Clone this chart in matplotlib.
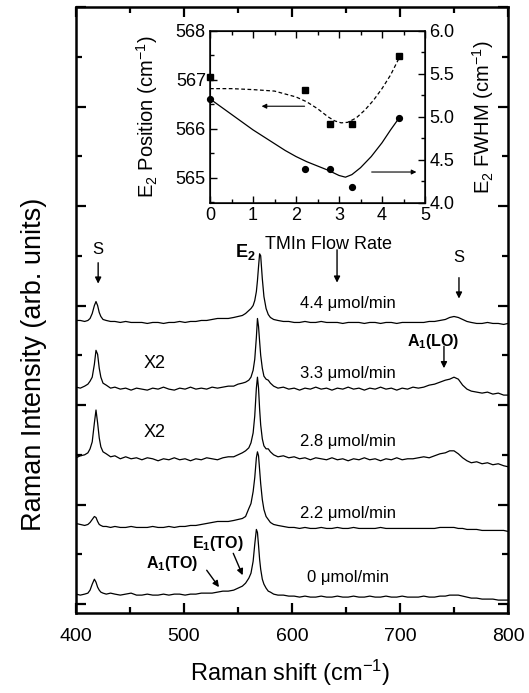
import matplotlib
matplotlib.use('Agg')
import matplotlib.pyplot as plt
from matplotlib.ticker import MultipleLocator, FormatStrFormatter

plt.rcParams['font.family'] = ['Liberation Sans', 'DejaVu Sans']
plt.rcParams['mathtext.fontset'] = 'custom'
plt.rcParams['mathtext.rm'] = 'Liberation Sans'
plt.rcParams['mathtext.it'] = 'Liberation Sans:italic'
plt.rcParams['mathtext.bf'] = 'Liberation Sans:bold'
plt.rcParams['mathtext.default'] = 'regular'

# Raman shift grid (cm-1), denser around the peaks
shift = [400, 404, 408, 411, 413, 415, 417, 418.5, 420, 421.5,
         423, 425, 428, 432, 436, 441, 446, 451, 456, 461,
         466, 471, 476, 481, 486, 491, 496, 501, 506, 511,
         516, 521, 526, 531, 536, 541, 546, 550, 554, 557,
         560, 562, 564, 565.5, 567, 568, 569, 570, 571, 572.5,
         574, 576, 578, 580, 583, 587, 592, 597, 602, 607,
         612, 617, 622, 627, 632, 637, 642, 647, 652, 657,
         662, 667, 672, 677, 682, 687, 692, 697, 702, 707,
         712, 717, 722, 727, 732, 737, 742, 746, 750, 754,
         758, 762, 766, 771, 776, 781, 786, 791, 796, 800]

# intensity above each baseline (arb. units)
spec_0 = [1, 0, 1, 2, 5, 11, 16, 13, 8, 5,
          3, 2, 1, 2, 1, 0, 1, 2, 0, 0,
          1, 0, 0, 1, 0, 1, 1, 0, 1, 1,
          2, 2, 2, 3, 4, 4, 5, 7, 9, 12,
          17, 22, 34, 51, 66, 63, 50, 36, 26, 16,
          11, 7, 4, 3, 1, 0, 0, -1, -1, -2,
          -1, -2, -2, -1, -2, -2, -1, -2, -2, -1,
          -2, -2, -1, -2, -2, -1, -2, -2, -1, -2,
          -2, -2, -1, -2, -2, -1, -1, 0, 0, 0,
          -1, -2, -3, -3, -4, -4, -4, -5, -5, -5]
spec_22 = [4, 3, 2, 3, 5, 8, 11, 10, 6, 3,
           2, 1, 1, 0, 1, 0, 0, 1, 0, 0,
           0, 1, 0, 0, 1, 0, 1, 1, 2, 2,
           3, 4, 5, 6, 6, 6, 7, 8, 9, 11,
           19, 24, 36, 50, 70, 76, 72, 58, 44, 28,
           18, 11, 8, 5, 3, 2, 1, 0, 0, -1,
           0, -1, -1, 0, -1, -1, 0, -1, -1, 0,
           -1, -1, -1, -1, 0, -1, -1, -1, -1, -1,
           -1, -1, -1, -1, -1, 0, 0, 0, 0, -1,
           -1, -2, -2, -2, -3, -3, -3, -3, -3, -4]
spec_28 = [0, 2, 3, 5, 9, 16, 35, 48, 35, 20,
           11, 6, 4, 1, 2, -1, 1, -1, 0, -2,
           0, -1, -3, -1, -2, 0, -2, -1, -3, -1,
           -2, 0, -1, -2, 0, 1, 1, 3, 5, 7,
           10, 15, 25, 42, 70, 81, 70, 49, 33, 19,
           12, 9, 9, 6, 3, 1, 2, 0, 1, -1,
           0, -2, 0, -1, -2, 0, -2, -1, -3, -1,
           -2, 0, -2, -1, -3, -1, -2, 0, -2, -1,
           -1, 0, 1, 0, 2, 4, 5, 7, 7, 4,
           0, -3, -5, -4, -6, -5, -7, -6, -8, -9]
spec_33 = [1, 0, 2, 4, 7, 11, 24, 38, 34, 20,
           11, 5, 3, 0, 1, -1, 0, -2, 0, -1,
           -2, 0, -1, 1, -1, -2, 0, -1, 1, -1,
           0, -1, 1, 0, 1, 2, 2, 4, 5, 6,
           8, 11, 18, 29, 51, 70, 62, 47, 33, 20,
           12, 9, 8, 5, 2, 0, 1, -1, 0, -2,
           0, -1, 1, -1, 0, -2, 0, -1, 1, -1,
           0, -2, 0, -1, 1, -1, 0, -2, 0, -1,
           1, 0, 1, 3, 4, 6, 8, 9, 11, 9,
           3, -1, -3, -4, -5, -4, -6, -5, -7, -7]
spec_44 = [2, 2, 1, 2, 4, 9, 17, 21, 17, 10,
           6, 3, 2, 1, 1, 0, 1, 0, 0, 0,
           -1, 0, 0, -1, 0, 0, 1, 0, 1, 1,
           2, 2, 3, 4, 4, 4, 5, 6, 7, 9,
           12, 14, 17, 22, 31, 42, 56, 69, 67, 44,
           26, 14, 8, 5, 3, 2, 1, 1, 0, 0,
           1, 0, 0, 1, 0, 0, 0, -1, 0, 0,
           0, -1, 0, 0, -1, 0, 0, -1, 0, 0,
           0, 0, 0, 1, 1, 2, 3, 5, 6, 5,
           3, 1, 0, -1, -1, 0, -1, -1, -2, -1]

spectra = [spec_0, spec_22, spec_28, spec_33, spec_44]
offsets = [9, 77, 147, 217, 283]
flow_labels = ['0 \u03bcmol/min', '2.2 \u03bcmol/min', '2.8 \u03bcmol/min',
               '3.3 \u03bcmol/min', '4.4 \u03bcmol/min']
label_y = [27, 91, 163, 232, 302]

# inset data
flow = [0, 2.2, 2.8, 3.3, 4.4]
e2_pos = [567.05, 566.80, 566.10, 566.10, 567.48]
e2_fwhm = [5.21, 4.40, 4.40, 4.19, 4.99]
fit_pos_x = [0, 0.5, 1.0, 1.5, 2.0, 2.25, 2.5, 2.75, 2.9, 3.05, 3.2, 3.4, 3.6, 3.8, 4.0, 4.2, 4.4]
fit_pos_y = [566.82, 566.82, 566.80, 566.77, 566.65, 566.55, 566.41, 566.24, 566.16, 566.12,
             566.13, 566.22, 566.38, 566.58, 566.82, 567.10, 567.45]
fit_fwhm_x = [0, 0.25, 0.5, 0.75, 1.0, 1.25, 1.5, 1.75, 2.0, 2.25, 2.5, 2.75, 3.0, 3.15,
              3.3, 3.5, 3.75, 4.0, 4.2, 4.4]
fit_fwhm_y = [5.21, 5.12, 5.03, 4.94, 4.85, 4.77, 4.69, 4.61, 4.54, 4.48, 4.43, 4.38, 4.32, 4.30,
              4.33, 4.41, 4.54, 4.70, 4.85, 4.99]

fig = plt.figure(figsize=(5.29, 6.93), dpi=100)
ax = fig.add_axes([0.1437, 0.1154, 0.8166, 0.8745])

for s, off in zip(spectra, offsets):
    ax.plot(shift, [v + off for v in s], color='k', lw=0.9)

ax.set_xlim(400, 800)
ax.set_ylim(-9, 600)
ax.xaxis.set_major_locator(MultipleLocator(100))
ax.xaxis.set_minor_locator(MultipleLocator(50))
ax.yaxis.set_major_locator(MultipleLocator(100))
ax.yaxis.set_minor_locator(MultipleLocator(50))
ax.tick_params(which='both', direction='in', top=True, right=True, labelleft=False)
ax.tick_params(which='major', length=7, width=1.6, labelsize=14, pad=11)
ax.tick_params(which='minor', length=4, width=1.6)
for sp in ax.spines.values():
    sp.set_linewidth(1.8)
ax.set_xlabel('Raman shift (cm$^{-1}$)', fontsize=17, va='center')
ax.xaxis.set_label_coords(0.495, -0.099)
ax.set_ylabel('Raman Intensity (arb. units)', fontsize=19.5)
ax.yaxis.set_label_coords(-0.067, 0.41)

for lab, y in zip(flow_labels, label_y):
    ax.text(652, y, lab, fontsize=12, ha='center', va='center')
ax.text(473, 242, 'X2', fontsize=13, ha='center', va='center')
ax.text(473, 172, 'X2', fontsize=13, ha='center', va='center')

def arrow(x0, y0, x1, y1):
    ax.annotate('', xy=(x1, y1), xytext=(x0, y0),
                arrowprops=dict(arrowstyle='-|>', color='k', lw=1,
                                mutation_scale=9, shrinkA=0, shrinkB=0))

ax.text(420.5, 356, 'S', fontsize=12, ha='center', va='center')
arrow(420.5, 343, 420.5, 322)
ax.text(754.6, 348, 'S', fontsize=12, ha='center', va='center')
arrow(754.6, 328, 754.6, 307)
ax.text(557, 354, 'E$_\\mathbf{2}$', fontsize=13, fontweight='bold', ha='center', va='center')
arrow(641.7, 356, 641.7, 323)
ax.text(731, 264, 'A$_\\mathbf{1}$(LO)', fontsize=11.5, fontweight='bold', ha='center', va='center')
arrow(740.7, 259, 740.7, 237)
ax.text(489, 41, 'A$_\\mathbf{1}$(TO)', fontsize=11.5, fontweight='bold', ha='center', va='center')
arrow(521, 34, 532.4, 17)
ax.text(531.5, 61, 'E$_\\mathbf{1}$(TO)', fontsize=11.5, fontweight='bold', ha='center', va='center')
arrow(545.6, 51, 554.3, 29)

# inset
ins = fig.add_axes([0.397, 0.7071, 0.4064, 0.2482])
ins2 = ins.twinx()
ins.plot(fit_pos_x, fit_pos_y, color='k', lw=0.9, dashes=(3, 2))
ins.plot(flow, e2_pos, 's', color='k', ms=3.8, clip_on=False)
ins2.plot(fit_fwhm_x, fit_fwhm_y, color='k', lw=0.9)
ins2.plot(flow, e2_fwhm, 'o', color='k', ms=4.2, clip_on=False)

ins.set_xlim(0, 5)
ins.set_ylim(564.48, 568.0)
ins2.set_ylim(4.0, 6.0)
ins.xaxis.set_major_locator(MultipleLocator(1))
ins.xaxis.set_minor_locator(MultipleLocator(0.5))
ins.yaxis.set_major_locator(MultipleLocator(1))
ins.yaxis.set_minor_locator(MultipleLocator(0.5))
ins2.yaxis.set_major_locator(MultipleLocator(0.5))
ins2.yaxis.set_minor_locator(MultipleLocator(0.25))
ins.yaxis.set_major_formatter(FormatStrFormatter('%d'))
ins2.yaxis.set_major_formatter(FormatStrFormatter('%.1f'))
ins.tick_params(which='both', direction='in', top=True, labelsize=13, pad=3)
ins.tick_params(which='major', length=5, width=1)
ins.tick_params(which='minor', length=3, width=1)
ins2.tick_params(which='both', direction='in', labelsize=13, pad=3)
ins2.tick_params(which='major', length=5, width=1)
ins2.tick_params(which='minor', length=3, width=1)
for sp in ins.spines.values():
    sp.set_linewidth(1.1)
ins.set_xlabel('TMIn Flow Rate', fontsize=13)
ins.xaxis.set_label_coords(0.55, -0.19)
ins.set_ylabel('E$_2$ Position (cm$^{-1}$)', fontsize=14.5)
ins.yaxis.set_label_coords(-0.233, 0.5)
ins2.set_ylabel('E$_2$ FWHM (cm$^{-1}$)', fontsize=14.5)
ins2.yaxis.set_label_coords(1.209, 0.5)

ins.annotate('', xy=(1.2, 566.46), xytext=(2.2, 566.46),
             arrowprops=dict(arrowstyle='-|>', color='k', lw=0.8, mutation_scale=7,
                             shrinkA=0, shrinkB=0))
ins2.annotate('', xy=(4.8, 4.36), xytext=(3.76, 4.36),
              arrowprops=dict(arrowstyle='-|>', color='k', lw=0.8, mutation_scale=7,
                              shrinkA=0, shrinkB=0))

fig.savefig('out.png', dpi=100)
